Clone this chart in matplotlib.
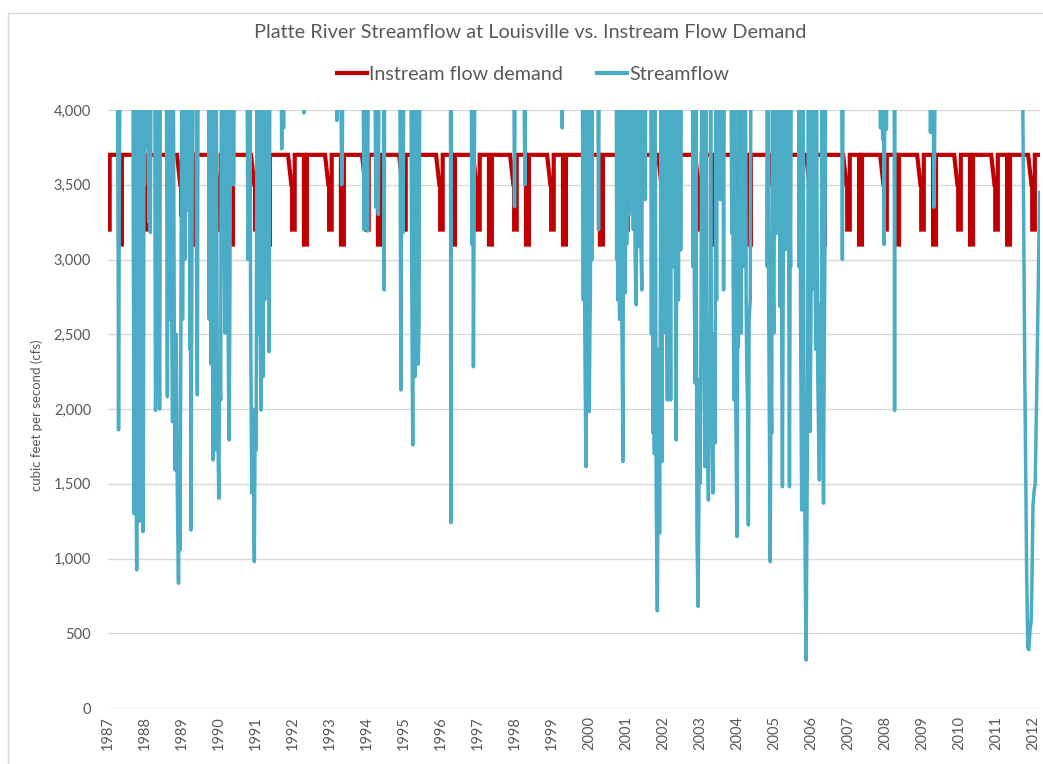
import matplotlib
matplotlib.use('Agg')
import matplotlib.pyplot as plt
from matplotlib.ticker import FuncFormatter
from matplotlib.lines import Line2D
from matplotlib.patches import Rectangle

plt.rcParams['font.family'] = ['Lato', 'DejaVu Sans']

TITLE = "Platte River Streamflow at Louisville vs. Instream Flow Demand"
Y_LABEL = "cubic feet per second (cfs)"

YEARS = [1987, 1988, 1989, 1990, 1991, 1992, 1993, 1994, 1995, 1996, 1997, 1998, 1999,
         2000, 2001, 2002, 2003, 2004, 2005, 2006, 2007, 2008, 2009, 2010, 2011, 2012]

# instream flow demand: seasonal schedule, repeated every year
BASE_CFS = 3700
FALL_CFS = 3500
WINTER_CFS = [3200, 3200, 3300, 3200, 3200, 3200, 3200, 3200, 3200, 3200, 3200, 3200, 3200,
              3200, 3200, 3200, 3200, 3200, 3200, 3200, 3200, 3200, 3200, 3200, 3200, 3200]
SPRING_CFS = [3100, 3100, 3100, 3100, 3100, 3100, 3100, 3100, 3100, 3100, 3100, 3100, 3100,
              3100, 3100, 3100, 3100, 3100, 3100, 3100, 3100, 3100, 3100, 3100, 3100, 3100]
# offsets in years from Jan 1
FALL_START = -0.13
FALL_END = -0.02
WINTER_END = 0.05
SPRING_START = 0.30
SPRING_END = 0.38
DEMAND_END = 2012.19

# streamflow (cfs); values above 4,000 run off the top of the chart
FLOW_YEAR = [
    1987.00, 1987.26, 1987.28, 1987.29, 1987.30, 1987.31, 1987.33,
    1987.68, 1987.69, 1987.70, 1987.71, 1987.72, 1987.73, 1987.74, 1987.75, 1987.76, 1987.78,
    1987.79, 1987.80, 1987.81, 1987.82, 1987.83, 1987.84, 1987.85, 1987.87, 1987.88, 1987.89,
    1987.90, 1987.91, 1987.92, 1987.93, 1987.95, 1987.96, 1987.97, 1987.98, 1987.99, 1988.01,
    1988.06, 1988.08, 1988.09, 1988.11, 1988.13, 1988.15, 1988.17,
    1988.27, 1988.28, 1988.29, 1988.30, 1988.31, 1988.32, 1988.33, 1988.34, 1988.35, 1988.36,
    1988.37, 1988.38, 1988.39, 1988.40, 1988.41, 1988.42,
    1988.58, 1988.60, 1988.61, 1988.63, 1988.66, 1988.69, 1988.72, 1988.75, 1988.77, 1988.80,
    1988.82, 1988.85, 1988.88, 1988.91, 1988.93, 1988.95, 1988.97, 1989.00, 1989.02, 1989.05,
    1989.08, 1989.11, 1989.13, 1989.15,
    1989.20, 1989.22, 1989.23, 1989.25, 1989.27, 1989.29, 1989.38, 1989.40, 1989.42, 1989.44,
    1989.72, 1989.74, 1989.76, 1989.79, 1989.81, 1989.84, 1989.86, 1989.88, 1989.90, 1989.93,
    1989.96, 1990.00, 1990.02, 1990.05, 1990.07, 1990.10, 1990.13, 1990.15, 1990.17, 1990.19,
    1990.22, 1990.24, 1990.26, 1990.28, 1990.30, 1990.32, 1990.38, 1990.40, 1990.42,
    1990.76, 1990.79, 1990.82, 1990.84, 1990.86, 1990.89, 1990.92, 1990.96, 1990.98, 1991.01,
    1991.03, 1991.05, 1991.07, 1991.10, 1991.14, 1991.16, 1991.18, 1991.20, 1991.22, 1991.24,
    1991.26, 1991.33, 1991.35, 1991.36, 1991.38,
    1991.68, 1991.70, 1991.72, 1991.75, 1991.77,
    1992.29, 1992.30, 1992.31,
    1993.17, 1993.19, 1993.21, 1993.29, 1993.32, 1993.34, 1993.35,
    1993.90, 1993.92, 1993.94, 1993.97, 1994.00, 1994.02, 1994.04,
    1994.22, 1994.24, 1994.26, 1994.29, 1994.31, 1994.33,
    1994.46, 1994.47, 1994.48,
    1994.89, 1994.92, 1994.94, 1994.96, 1994.98, 1995.00,
    1995.19, 1995.21, 1995.24, 1995.26, 1995.28, 1995.30, 1995.32, 1995.35, 1995.37, 1995.39,
    1995.41, 1995.43,
    1996.26, 1996.27, 1996.28,
    1996.82, 1996.84, 1996.86, 1996.88, 1996.90, 1996.92,
    1997.97, 1997.99, 1998.01,
    1998.24, 1998.27, 1998.29,
    1999.27, 1999.28, 1999.30,
    1999.82, 1999.85, 1999.87, 1999.89, 1999.92, 1999.94, 1999.96, 1999.98, 2000.01, 2000.03,
    2000.04, 2000.06, 2000.08, 2000.10,
    2000.24, 2000.26, 2000.28,
    2000.74, 2000.75, 2000.77, 2000.78, 2000.80, 2000.83, 2000.85, 2000.88, 2000.92, 2000.94,
    2000.96, 2000.98, 2001.00, 2001.02, 2001.04, 2001.06, 2001.09, 2001.11, 2001.13, 2001.15,
    2001.18, 2001.20, 2001.22, 2001.25, 2001.28, 2001.30, 2001.32, 2001.34, 2001.36, 2001.39,
    2001.43, 2001.45, 2001.48, 2001.50, 2001.52, 2001.54,
    2001.67, 2001.69, 2001.71, 2001.73, 2001.75, 2001.77, 2001.79, 2001.82, 2001.85, 2001.87,
    2001.89, 2001.91, 2001.93, 2001.95, 2001.97, 2001.99, 2002.01, 2002.03, 2002.06, 2002.08,
    2002.10, 2002.12, 2002.14, 2002.16, 2002.18, 2002.21, 2002.23, 2002.25, 2002.28, 2002.30,
    2002.33, 2002.36, 2002.38, 2002.40, 2002.42, 2002.44, 2002.46, 2002.48, 2002.50,
    2002.78, 2002.80, 2002.81, 2002.83, 2002.85, 2002.87, 2002.89, 2002.92, 2002.95, 2002.97,
    2002.99, 2003.01, 2003.03, 2003.05, 2003.08, 2003.10, 2003.12, 2003.14, 2003.16, 2003.18,
    2003.20, 2003.23, 2003.25, 2003.27, 2003.29, 2003.31, 2003.33, 2003.35, 2003.37, 2003.39,
    2003.41, 2003.43, 2003.45, 2003.47,
    2003.52, 2003.55, 2003.57, 2003.62, 2003.64, 2003.66,
    2003.82, 2003.84, 2003.86, 2003.88, 2003.90, 2003.92, 2003.94, 2003.97, 2004.00, 2004.02,
    2004.04, 2004.06, 2004.09, 2004.11, 2004.13, 2004.16, 2004.18, 2004.20, 2004.23, 2004.25,
    2004.27, 2004.29, 2004.31, 2004.33, 2004.36, 2004.38, 2004.40,
    2004.79, 2004.81, 2004.82, 2004.84, 2004.86, 2004.88, 2004.90, 2004.92, 2004.94, 2004.96,
    2004.98, 2005.00, 2005.02, 2005.05, 2005.08, 2005.10, 2005.14, 2005.17, 2005.19, 2005.21,
    2005.23, 2005.25, 2005.27, 2005.30, 2005.32, 2005.36, 2005.38, 2005.40, 2005.42, 2005.44,
    2005.45, 2005.47,
    2005.65, 2005.67, 2005.68, 2005.70, 2005.72, 2005.75, 2005.77, 2005.79, 2005.81, 2005.83,
    2005.85, 2005.87, 2005.89, 2005.91, 2005.93, 2005.96, 2005.98, 2006.00, 2006.02, 2006.04,
    2006.06, 2006.07, 2006.09, 2006.11, 2006.13, 2006.15, 2006.18, 2006.21, 2006.23, 2006.25,
    2006.28, 2006.30, 2006.32, 2006.34, 2006.36, 2006.38, 2006.40,
    2006.83, 2006.85, 2006.87,
    2007.86, 2007.88, 2007.90, 2007.94, 2007.96, 2007.98, 2008.00, 2008.04, 2008.06,
    2008.25, 2008.26, 2008.27,
    2009.21, 2009.23, 2009.26, 2009.28, 2009.30, 2009.32, 2009.34, 2009.36,
    2011.71, 2011.73, 2011.78, 2011.83, 2011.86, 2011.89, 2011.92, 2011.95, 2011.97, 2012.00,
    2012.03, 2012.06, 2012.10, 2012.14, 2012.18,
]
FLOW_CFS = [
    4400, 4400, 3100, 1860, 2700, 3300, 4400,
    4400, 3000, 2400, 1300, 4400, 2800, 1900, 1500, 1700, 923,
    1400, 2000, 4400, 4400, 2200, 1800, 1400, 1250, 1600, 1700,
    4400, 3000, 2000, 1600, 1180, 1500, 2600, 4400, 3500, 4400,
    4400, 3750, 4400, 3250, 3600, 3180, 4400,
    4400, 2800, 1990, 2200, 2600, 4400, 4400, 2800, 2300, 2500,
    4400, 3000, 2400, 2000, 2600, 4400,
    4400, 3000, 2082, 4400, 2600, 4400, 2800, 1915, 4400, 2300,
    1592, 2500, 1400, 834, 1500, 1057, 2200, 4400, 2600, 4400,
    3000, 4400, 3330, 4400,
    4400, 2400, 3000, 1190, 2900, 4400, 4400, 2800, 2094, 4400,
    4400, 2600, 4400, 2300, 4400, 1659, 2500, 2000, 1726, 4400,
    2100, 1403, 2300, 2060, 4400, 3064, 4400, 3000, 2508, 4400,
    4400, 3000, 2200, 1793, 2800, 4400, 4400, 3500, 4400,
    4400, 3000, 3398, 4400, 2600, 1438, 2000, 979, 1900, 1726,
    4400, 2508, 4400, 3000, 1993, 4400, 2600, 2216, 4400, 2729,
    4400, 4400, 2700, 2383, 4400,
    4400, 3740, 4400, 3880, 4400,
    4400, 3980, 4400,
    4400, 3930, 4400, 4400, 3500, 3800, 4400,
    4400, 3200, 4400, 3600, 4400, 3190, 4400,
    4400, 3350, 4400, 3500, 3300, 4400,
    4400, 2796, 4400,
    4400, 2127, 3500, 4400, 3180, 4400,
    4400, 3000, 1759, 4400, 2500, 2216, 4400, 2400, 4400, 2300,
    2550, 4400,
    4400, 1240, 4400,
    4400, 3100, 4400, 2283, 3300, 4400,
    4400, 3353, 4400,
    4400, 3500, 4400,
    4400, 3880, 4400,
    4400, 2729, 4400, 2500, 1614, 2400, 4400, 2300, 1982, 2600,
    2729, 4400, 2997, 4400,
    4400, 3200, 4400,
    4400, 3000, 4400, 2729, 4400, 2600, 4400, 3000, 1648, 4400,
    3000, 2776, 4400, 3100, 3400, 4400, 3300, 3866, 4400, 3800,
    4400, 3200, 4400, 3000, 2696, 4400, 4400, 3086, 4400, 3300,
    2796, 4400, 3500, 4400, 3400, 4400,
    4400, 2500, 4400, 1839, 2800, 1700, 4400, 1391, 650, 1500,
    2400, 1170, 2600, 4400, 1648, 4400, 2508, 4400, 2908, 4400,
    3000, 2060, 4400, 2729, 4400, 2060, 4400, 4400, 2952, 4400,
    3200, 1793, 4400, 4400, 2729, 4400, 4400, 3064, 4400,
    4400, 4400, 2952, 4400, 2800, 2174, 4400, 1170, 680, 1300,
    2200, 1505, 2600, 4400, 2283, 4400, 2200, 1614, 4400, 2508,
    2000, 1391, 2600, 1839, 4400, 2400, 1800, 1438, 2500, 2200,
    1772, 4400, 2729, 4400,
    4400, 3400, 4400, 4400, 2796, 4400,
    4400, 4400, 3175, 4400, 2800, 2060, 4400, 2000, 1146, 2500,
    2417, 4400, 3000, 2508, 4400, 3300, 2952, 4400, 4400, 2700,
    2216, 2000, 1224, 2600, 2729, 4400, 4400,
    4400, 4400, 2952, 4400, 2600, 1800, 979, 2200, 1839, 4400,
    2800, 2508, 4400, 4400, 3175, 4400, 4400, 2684, 4400, 2500,
    1480, 2800, 4400, 3064, 4400, 4400, 4400, 3000, 1480, 3200,
    2952, 4400,
    4400, 4400, 2952, 4400, 2600, 1324, 2400, 4400, 2300, 1500,
    800, 320, 1200, 2000, 4400, 2200, 1850, 2600, 4400, 2800,
    4400, 3080, 4400, 3000, 2400, 4400, 2300, 1800, 1525, 2700,
    2500, 4400, 2200, 1370, 2400, 3100, 4400,
    4400, 3000, 4400,
    4400, 3880, 4400, 3800, 4400, 3100, 4400, 3870, 4400,
    4400, 1990, 4400,
    4400, 3850, 4400, 3880, 4400, 3350, 3700, 4400,
    4400, 3900, 2200, 900, 400, 390, 520, 580, 800, 1350,
    1450, 1500, 2100, 2800, 3450,
]

# build the step line for the demand schedule
demand_t = []
demand_v = []
for yr, winter, spring in zip(YEARS, WINTER_CFS, SPRING_CFS):
    if yr > YEARS[0]:
        demand_t += [yr + FALL_START, yr + FALL_END - 0.02, yr + FALL_END]
        demand_v += [BASE_CFS, FALL_CFS, FALL_CFS]
    demand_t += [max(yr + FALL_END, YEARS[0]), yr + WINTER_END, yr + WINTER_END]
    demand_v += [winter, winter, BASE_CFS]
    if yr + SPRING_START < DEMAND_END:
        demand_t += [yr + SPRING_START, yr + SPRING_START, yr + SPRING_END, yr + SPRING_END]
        demand_v += [BASE_CFS, spring, spring, BASE_CFS]
demand_t.append(DEMAND_END)
demand_v.append(BASE_CFS)

RED = '#C00000'
BLUE = '#4BACC6'
TXT = '#595959'

fig = plt.figure(figsize=(10.43, 7.64), dpi=100)
fig.patches.append(Rectangle((8 / 1043, -0.05), 1.2, 1 - 13 / 764 + 0.05, transform=fig.transFigure,
                             fill=False, edgecolor='#d9d9d9', linewidth=1))
ax = fig.add_axes([107.8 / 1043, 56 / 764, (1040 - 107.8) / 1043, 598 / 764])

ax.plot(demand_t, demand_v, color=RED, linewidth=3.0, solid_joinstyle='miter', zorder=2)
ax.plot(FLOW_YEAR, FLOW_CFS, color=BLUE, linewidth=2.5, solid_joinstyle='round', zorder=3)

ax.set_xlim(YEARS[0], DEMAND_END)
ax.set_ylim(0, 4000)
ax.set_yticks(range(0, 4001, 500))
ax.yaxis.set_major_formatter(FuncFormatter(lambda v, p: f"{int(v):,}"))
ax.set_xticks(YEARS)
ax.set_xticklabels([str(y) for y in YEARS], rotation=90)
ax.tick_params(axis='both', length=0, colors=TXT, labelsize=10.5)
ax.tick_params(axis='y', pad=12)
ax.tick_params(axis='x', pad=6)
ax.grid(axis='y', color='#d9d9d9', linewidth=1)
ax.set_axisbelow(True)
for s in ax.spines.values():
    s.set_visible(False)

ax.set_ylabel(Y_LABEL, fontsize=9.5, color=TXT)
ax.yaxis.set_label_coords(-0.069, 0.49)

fig.text(0.508, 1 - 33 / 764, TITLE, ha='center', va='center', fontsize=14.3, color=TXT)

handles = [Line2D([], [], color=RED, linewidth=3.0), Line2D([], [], color=BLUE, linewidth=3.0)]
fig.legend(handles, ["Instream flow demand", "Streamflow"], loc='center',
           bbox_to_anchor=(0.511, 1 - 74 / 764), ncol=2, frameon=False, fontsize=14.2,
           handlelength=1.55, handletextpad=0.1, columnspacing=1.7, labelcolor=TXT)

fig.savefig('out.png', dpi=100)
